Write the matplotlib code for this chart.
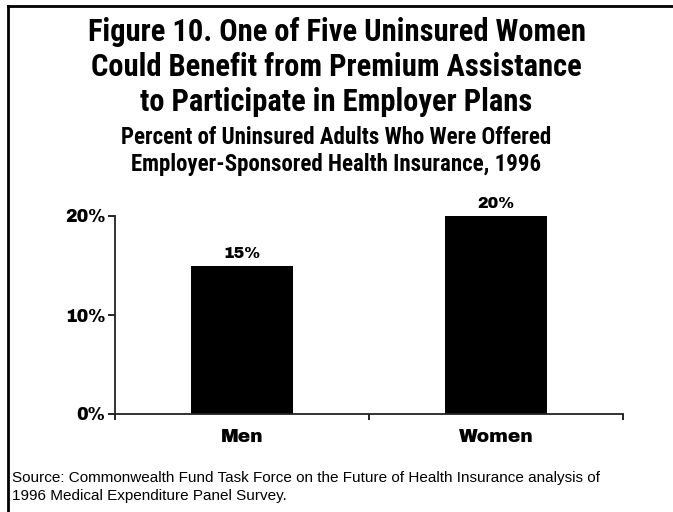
import matplotlib
matplotlib.use("Agg")
import matplotlib.pyplot as plt
from matplotlib.lines import Line2D
from matplotlib.ticker import FixedLocator

categories = ["Men", "Women"]
offered_pct = [15, 20]
ytick_values = [0, 10, 20]
ytick_labels = ["0%", "10%", "20%"]

title_lines = [
    "Figure 10. One of Five Uninsured Women",
    "Could Benefit from Premium Assistance",
    "to Participate in Employer Plans",
]
subtitle_lines = [
    "Percent of Uninsured Adults Who Were Offered",
    "Employer-Sponsored Health Insurance, 1996",
]
source_lines = [
    "Source: Commonwealth Fund Task Force on the Future of Health Insurance analysis of",
    "1996 Medical Expenditure Panel Survey.",
]

W, H = 673, 512
HEAD = ["Roboto Condensed", "DejaVu Sans"]
LABEL = ["Archivo Black", "DejaVu Sans"]
BODY = ["Liberation Sans", "DejaVu Sans"]

fig = plt.figure(figsize=(W / 100, H / 100), dpi=100)
fig.patch.set_facecolor("white")

# frame: top and left rules
fig.add_artist(Line2D([8 / W, 1], [1 - 6 / H, 1 - 6 / H], color="black", lw=2))
fig.add_artist(Line2D([8 / W, 8 / W], [0, 1 - 6 / H], color="black", lw=2))

for i, line in enumerate(title_lines):
    fig.text(0.5, 1 - (32 + 35 * i) / H, line, ha="center", va="center",
             fontsize=22, fontweight=800, family=HEAD)
for i, line in enumerate(subtitle_lines):
    fig.text(0.5, 1 - (138 + 26 * i) / H, line, ha="center", va="center",
             fontsize=16.5, fontweight=800, family=HEAD)
for i, line in enumerate(source_lines):
    fig.text(12 / W, 1 - (478 + 18 * i) / H, line, ha="left", va="center",
             fontsize=11, family=BODY)

ax = fig.add_axes([115 / W, (H - 414) / H, (623 - 115) / W, (414 - 216) / H])
x = list(range(len(categories)))
bars = ax.bar(x, offered_pct, width=0.405, color="black")
ax.set_xlim(-0.5, len(categories) - 0.5)
ax.set_ylim(0, 20)

for b, v in zip(bars, offered_pct):
    ax.text(b.get_x() + b.get_width() / 2, v + 0.5, f"{v}%", ha="center", va="bottom",
            fontsize=11.5, family=LABEL)

ax.set_yticks(ytick_values)
ax.set_yticklabels(ytick_labels, fontsize=12.5, family=LABEL)
ax.set_xticks(x)
ax.set_xticklabels(categories, fontsize=13.5, family=LABEL)
ax.xaxis.set_minor_locator(FixedLocator([-0.5, 0.5, 1.5]))
ax.tick_params(axis="x", which="major", length=0, pad=11)
ax.tick_params(axis="x", which="minor", length=4, direction="out", width=1.2)
ax.tick_params(axis="y", length=5, width=1.2, pad=2)

for s in ["top", "right"]:
    ax.spines[s].set_visible(False)
for s in ["left", "bottom"]:
    ax.spines[s].set_linewidth(1.3)
    ax.spines[s].set_color("#222222")

fig.savefig("out.png", dpi=100)
